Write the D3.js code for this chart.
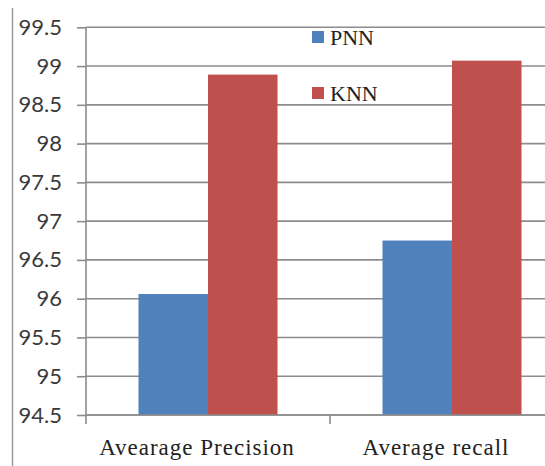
<!DOCTYPE html>
<html>
<head>
<meta charset="utf-8">
<script src="https://cdn.jsdelivr.net/npm/d3@7"></script>
<style>
  html, body { margin: 0; padding: 0; background: #fff; }
  svg { display: block; }
</style>
</head>
<body>
<svg id="chart" width="545" height="466"></svg>
<script>
const categories = ["Avearage Precision", "Average recall"];
const seriesNames = ["PNN", "KNN"];
const pnnValues = [96.06, 96.75];
const knnValues = [98.89, 99.07];
const yTicks = [94.5, 95, 95.5, 96, 96.5, 97, 97.5, 98, 98.5, 99, 99.5];
const colors = ["#4F81BD", "#C0504D"];

(function () {
const SERIF = "'Liberation Serif', 'Times New Roman', serif";
const svg = d3.select("#chart");
const W = 545, H = 466;
const mLeft = 86, mRight = 574, mTop = 27.3, mBottom = 415;

const y = d3.scaleLinear().domain([94.5, 99.5]).range([mBottom, mTop]);
const x0 = d3.scaleBand().domain(categories).range([mLeft, mRight]).padding(0);
const x1 = d3.scaleBand().domain(seriesNames).range([0, x0.bandwidth()]).paddingInner(0).paddingOuter(0.755);

// outer border line at left
svg.append("line").attr("x1", 12.5).attr("x2", 12.5).attr("y1", 8).attr("y2", H)
  .attr("stroke", "#9a9a9a").attr("stroke-width", 1.5);

// gridlines
svg.append("g").selectAll("line").data(yTicks).join("line")
  .attr("x1", mLeft).attr("x2", W)
  .attr("y1", d => y(d)).attr("y2", d => y(d))
  .attr("stroke", "#8c8c8c").attr("stroke-width", 1.6);

// y axis
const yAxis = d3.axisLeft(y).tickValues(yTicks).tickSize(9).tickPadding(15)
  .tickFormat(d => String(d));
const gy = svg.append("g").attr("transform", `translate(${mLeft},0)`).call(yAxis);
gy.select(".domain").remove();
gy.selectAll(".tick line").attr("stroke", "#8c8c8c").attr("stroke-width", 1.6);
gy.selectAll(".tick text").style("font-family", "Lato, 'Open Sans', sans-serif")
  .style("font-size", "22px").attr("fill", "#3a3a3a");
svg.append("line").attr("x1", mLeft).attr("x2", mLeft).attr("y1", mTop).attr("y2", mBottom + 9)
  .attr("stroke", "#8c8c8c").attr("stroke-width", 1.6);

// bars
const data = categories.map((c, i) => ({ cat: c, vals: [pnnValues[i], knnValues[i]] }));
const groups = svg.append("g").selectAll("g").data(data).join("g")
  .attr("transform", d => `translate(${x0(d.cat)},0)`);
groups.selectAll("rect").data(d => d.vals.map((v, j) => ({ s: seriesNames[j], v, j })))
  .join("rect")
  .attr("x", d => x1(d.s))
  .attr("width", x1.bandwidth())
  .attr("y", d => y(d.v))
  .attr("height", d => y(94.5) - y(d.v))
  .attr("fill", d => colors[d.j]);

// x axis baseline & ticks
svg.append("line").attr("x1", mLeft).attr("x2", W).attr("y1", mBottom).attr("y2", mBottom)
  .attr("stroke", "#8c8c8c").attr("stroke-width", 1.6);
const catBounds = [x0(categories[1])];
svg.append("g").selectAll("line").data(catBounds).join("line")
  .attr("x1", d => d).attr("x2", d => d).attr("y1", mBottom).attr("y2", mBottom + 9)
  .attr("stroke", "#8c8c8c").attr("stroke-width", 1.6);

// category labels
const labelShift = [-11, -16];
svg.append("g").selectAll("text").data(categories).join("text")
  .attr("x", (d, i) => x0(d) + x0.bandwidth() / 2 + labelShift[i])
  .attr("y", 455)
  .attr("text-anchor", "middle")
  .style("font-family", SERIF)
  .style("font-size", "23px")
  .style("letter-spacing", "1px")
  .attr("fill", "#222")
  .text(d => d);

// legend
const legend = svg.append("g").selectAll("g").data(seriesNames).join("g")
  .attr("transform", (d, i) => `translate(312, ${31 + i * 56})`);
legend.append("rect").attr("width", 12).attr("height", 12).attr("fill", (d, i) => colors[i]);
legend.append("text").attr("x", 18).attr("y", 14)
  .style("font-family", SERIF).style("font-size", "22px")
  .attr("fill", "#222").text(d => d);
})();
</script>
</body>
</html>
